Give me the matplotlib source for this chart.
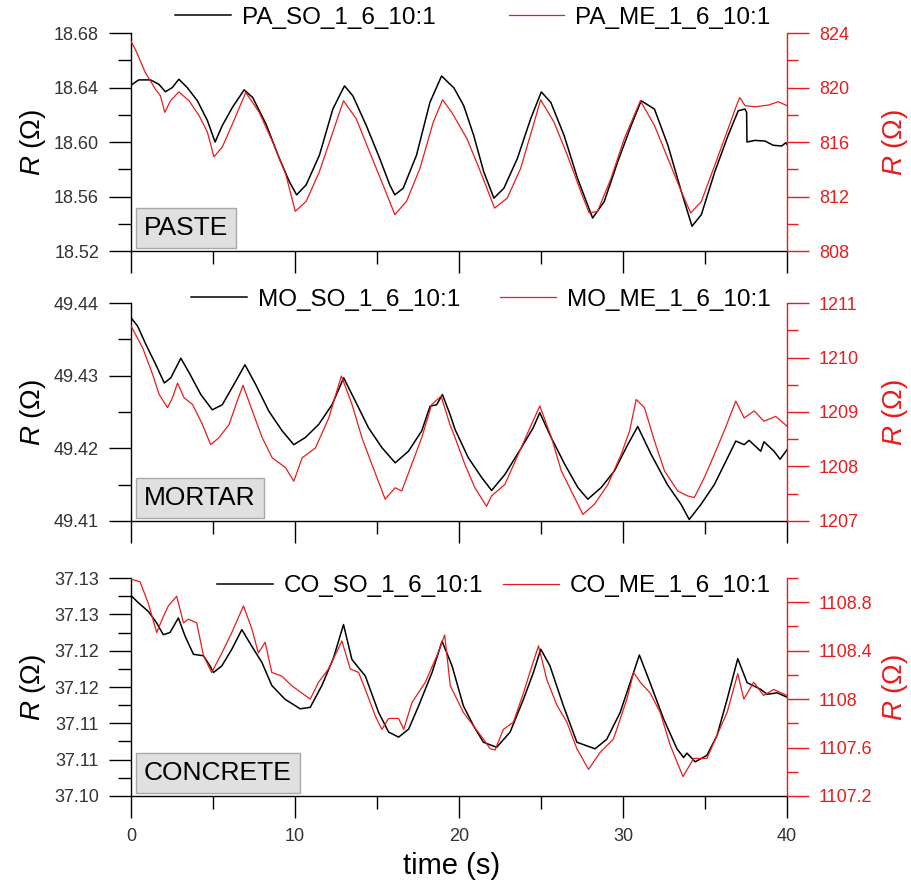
import matplotlib
matplotlib.use('Agg')
import matplotlib.pyplot as plt
from matplotlib.ticker import MultipleLocator, FixedLocator, FuncFormatter

plt.rcParams['font.family'] = ['Liberation Sans', 'DejaVu Sans']
plt.rcParams['mathtext.fontset'] = 'custom'
plt.rcParams['mathtext.rm'] = 'Liberation Sans'
plt.rcParams['mathtext.it'] = 'Liberation Sans:italic'

RED = '#e81c1c'
TICK_GREY = '#333333'

# --- paste (PA) ---
pa_so_t = [0, 0.47, 1.19, 1.7, 2.1, 2.52, 2.92, 3.43, 4.05, 4.66, 5.13, 5.57, 6.19, 6.9, 7.42,
           8.23, 9.05, 9.66, 10.1, 10.68, 11.49, 12.31, 12.71, 13.02, 13.53, 14.35, 15.17, 15.78,
           16.09, 16.6, 17.41, 18.23, 18.94, 19.56, 19.68, 20.29, 20.9, 21.51, 22.13, 22.74, 23.56,
           24.37, 25.02, 25.6, 26.41, 27.23, 28.15, 28.86, 29.68, 30.5, 31.11, 31.92, 32.74, 33.56,
           34.21, 34.78, 35.6, 36.41, 37.03, 37.44, 37.54, 37.56, 38.05, 38.66, 39.17, 39.68,
           39.93, 40.0]
pa_so_r = [18.6417, 18.6456, 18.6456, 18.6424, 18.6369, 18.64, 18.6461, 18.64, 18.6303, 18.6158,
           18.6, 18.6121, 18.6255, 18.6383, 18.6327, 18.6133, 18.5879, 18.5709, 18.5612, 18.5685,
           18.5903, 18.6242, 18.6339, 18.6412, 18.6339, 18.6121, 18.5879, 18.5685, 18.5612,
           18.5661, 18.5903, 18.6291, 18.6485, 18.6412, 18.64, 18.6267, 18.6048, 18.5782, 18.5588,
           18.5661, 18.5879, 18.617, 18.6368, 18.6291, 18.6048, 18.5733, 18.5442, 18.5564,
           18.5855, 18.6121, 18.6303, 18.6242, 18.5976, 18.5636, 18.5382, 18.5467, 18.5782,
           18.6048, 18.623, 18.6242, 18.6218, 18.6, 18.6012, 18.6007, 18.5976, 18.5971, 18.5995,
           18.5983]
pa_me_t = [0, 0.27, 0.88, 1.49, 1.8, 2.06, 2.41, 2.92, 3.54, 4.15, 4.66, 5.06, 5.57, 6.19, 7.0,
           7.82, 8.64, 9.45, 10.02, 10.68, 11.49, 12.31, 12.96, 13.74, 14.55, 15.37, 16.09, 16.8,
           17.62, 18.43, 19.0, 19.56, 20.49, 21.31, 22.17, 22.94, 23.76, 24.47, 24.98, 25.8, 26.61,
           27.43, 27.94, 28.45, 29.27, 30.08, 31.06, 31.92, 32.74, 33.56, 34.13, 34.78, 35.6,
           36.41, 36.92, 37.12, 37.44, 38.05, 38.86, 39.47, 40.0]
pa_me_r = [823.39, 822.79, 821.09, 819.88, 819.39, 818.18, 819.03, 819.68, 819.03, 817.94, 816.73,
           814.91, 815.64, 817.33, 819.64, 818.18, 816.0, 813.58, 810.91, 811.64, 813.82, 816.73,
           819.03, 817.7, 815.27, 812.85, 810.67, 811.64, 814.06, 817.45, 819.1, 818.18, 816.24,
           813.82, 811.15, 811.88, 814.06, 816.97, 819.1, 817.45, 815.03, 812.36, 810.79, 810.91,
           813.33, 816.24, 819.03, 817.21, 814.79, 812.36, 810.79, 811.64, 814.3, 816.97, 818.67,
           819.27, 818.67, 818.59, 818.71, 818.96, 818.67]

# --- mortar (MO) ---
mo_so_t = [0, 0.41, 0.91, 1.52, 2.03, 2.43, 3.04, 3.55, 4.26, 4.96, 5.57, 6.38, 6.95, 7.6, 8.41,
           9.22, 9.93, 10.64, 11.45, 12.26, 12.97, 13.68, 14.49, 15.3, 16.11, 16.92, 17.73, 18.24,
           18.64, 18.99, 19.45, 19.76, 20.57, 21.38, 21.99, 22.8, 23.81, 24.52, 24.93, 25.64,
           26.45, 27.25, 27.86, 28.67, 29.48, 30.29, 30.9, 31.71, 32.71, 33.54, 34.04, 34.76,
           35.57, 36.38, 36.88, 37.39, 37.69, 38.4, 38.6, 39.21, 39.58, 40.0]
mo_so_r = [49.438, 49.4368, 49.4343, 49.4315, 49.429, 49.4297, 49.4324, 49.4304, 49.4274, 49.4253,
           49.426, 49.4292, 49.4315, 49.4288, 49.4251, 49.4224, 49.4205, 49.4215, 49.4233, 49.426,
           49.4297, 49.4265, 49.4228, 49.4201, 49.418, 49.4196, 49.4224, 49.4258, 49.426, 49.4274,
           49.4247, 49.4226, 49.4187, 49.416, 49.4142, 49.4164, 49.4201, 49.4228, 49.4249,
           49.4214, 49.4178, 49.4146, 49.413, 49.4146, 49.4169, 49.4205, 49.423, 49.4192, 49.415,
           49.4123, 49.4102, 49.4123, 49.415, 49.4187, 49.421, 49.4205, 49.4211, 49.4196,
           49.4209, 49.4196, 49.4185, 49.4198]
mo_me_t = [0, 0.71, 1.32, 1.72, 2.23, 2.53, 2.84, 3.24, 3.75, 4.36, 4.86, 5.37, 5.98, 6.48, 6.83,
           7.4, 8.0, 8.61, 9.42, 9.93, 10.44, 11.25, 12.06, 12.83, 13.48, 14.08, 14.69, 15.5,
           16.11, 16.51, 17.12, 17.73, 18.34, 18.91, 19.45, 19.76, 20.36, 20.97, 21.68, 21.99,
           22.8, 23.61, 24.42, 24.93, 25.64, 26.24, 26.85, 27.56, 28.27, 29.08, 29.89, 30.4,
           30.81, 31.31, 31.92, 32.53, 33.34, 33.94, 34.35, 34.95, 35.57, 36.17, 36.88, 37.39,
           38.0, 38.6, 39.31, 40.0]
mo_me_r = [1210.58, 1210.18, 1209.69, 1209.32, 1209.08, 1209.26, 1209.53, 1209.26, 1209.14,
           1208.77, 1208.4, 1208.53, 1208.77, 1209.2, 1209.49, 1209.02, 1208.53, 1208.16, 1207.98,
           1207.73, 1208.16, 1208.34, 1208.89, 1209.66, 1209.14, 1208.53, 1208.04, 1207.4,
           1207.61, 1207.55, 1208.04, 1208.53, 1209.14, 1209.29, 1208.77, 1208.53, 1208.04,
           1207.61, 1207.27, 1207.46, 1207.67, 1208.22, 1208.77, 1209.11, 1208.53, 1207.92,
           1207.55, 1207.12, 1207.31, 1207.67, 1208.22, 1208.65, 1209.23, 1209.08, 1208.47,
           1207.92, 1207.55, 1207.46, 1207.43, 1207.79, 1208.22, 1208.65, 1209.2, 1208.89,
           1209.02, 1208.83, 1208.92, 1208.74]

# --- concrete (CO) ---
co_so_t = [0, 0.45, 1.06, 1.57, 1.97, 2.38, 2.89, 3.3, 3.81, 4.42, 4.82, 5.03, 5.54, 6.15, 6.76,
           7.37, 7.98, 8.59, 9.4, 10.32, 10.93, 11.64, 12.35, 12.96, 13.47, 14.29, 15.1, 15.71,
           16.32, 16.93, 17.54, 18.36, 18.97, 19.58, 20.27, 20.88, 21.49, 22.3, 23.12, 23.93,
           24.54, 24.99, 25.55, 26.37, 27.19, 27.8, 28.3, 29.01, 29.83, 30.44, 31.0, 31.65, 32.48,
           33.29, 33.7, 33.9, 34.41, 35.12, 35.73, 36.35, 37.0, 37.57, 38.38, 38.79, 39.4, 40.0]
co_so_r = [37.1276, 37.1266, 37.1254, 37.1238, 37.1222, 37.1225, 37.1245, 37.122, 37.1195,
           37.1193, 37.1179, 37.117, 37.1179, 37.1202, 37.1229, 37.1206, 37.1184, 37.1152,
           37.1133, 37.112, 37.1122, 37.1152, 37.119, 37.1236, 37.1188, 37.1165, 37.1115,
           37.1088, 37.1081, 37.1092, 37.1124, 37.117, 37.1213, 37.1179, 37.1124, 37.1097,
           37.1074, 37.1067, 37.1088, 37.1133, 37.117, 37.1202, 37.1179, 37.1124, 37.1074,
           37.1069, 37.1065, 37.1078, 37.1115, 37.1156, 37.1194, 37.1156, 37.1106, 37.1065,
           37.1053, 37.1059, 37.1047, 37.1056, 37.1083, 37.1133, 37.1189, 37.1156, 37.1147,
           37.114, 37.1142, 37.1136]
co_me_t = [0, 0.55, 1.06, 1.57, 1.97, 2.28, 2.79, 3.2, 3.5, 4.01, 4.42, 4.92, 5.54, 6.15, 6.86,
           7.37, 7.77, 8.18, 8.59, 9.2, 9.81, 10.42, 10.93, 11.44, 12.05, 12.86, 13.37, 13.88,
           14.29, 14.9, 15.3, 15.71, 16.32, 16.63, 17.13, 17.95, 18.66, 19.13, 19.47, 20.27,
           20.88, 21.49, 21.9, 22.2, 22.71, 23.32, 23.93, 24.44, 24.85, 25.36, 25.97, 26.58,
           27.19, 27.9, 28.61, 29.42, 30.24, 30.65, 31.05, 31.66, 32.27, 32.88, 33.66, 34.31,
           35.12, 35.73, 36.35, 37.0, 37.37, 37.97, 38.58, 39.19, 40.0]
co_me_r = [1108.99, 1108.97, 1108.79, 1108.55, 1108.68, 1108.77, 1108.85, 1108.63, 1108.66,
           1108.63, 1108.36, 1108.22, 1108.38, 1108.55, 1108.77, 1108.58, 1108.38, 1108.47,
           1108.22, 1108.19, 1108.11, 1108.05, 1108.0, 1108.14, 1108.25, 1108.48, 1108.25,
           1108.22, 1108.08, 1107.86, 1107.75, 1107.84, 1107.84, 1107.75, 1107.97, 1108.14,
           1108.36, 1108.53, 1108.11, 1107.89, 1107.78, 1107.67, 1107.59, 1107.58, 1107.75,
           1107.81, 1108.05, 1108.27, 1108.44, 1108.16, 1107.95, 1107.81, 1107.59, 1107.42,
           1107.56, 1107.67, 1108.0, 1108.22, 1108.14, 1108.05, 1107.89, 1107.62, 1107.36,
           1107.51, 1107.51, 1107.7, 1107.89, 1108.21, 1108.0, 1108.14, 1108.03, 1108.08, 1108.03]

# left tick labels of the concrete panel are printed with two decimals (hence repeats)
co_left_ticks = [37.100, 37.105, 37.110, 37.115, 37.120, 37.125, 37.130]
co_left_labels = ['37.10', '37.11', '37.11', '37.12', '37.12', '37.13', '37.13']

panels = [
    dict(name='PASTE', so=(pa_so_t, pa_so_r), me=(pa_me_t, pa_me_r),
         labels=['PA_SO_1_6_10:1', 'PA_ME_1_6_10:1'],
         llim=(18.52, 18.68), lmaj=0.04, lmin=0.02,
         rlim=(808, 824), rmaj=4, rmin=2,
         bottom=0.7167, leg_y=0.9797, colsp=3.0),
    dict(name='MORTAR', so=(mo_so_t, mo_so_r), me=(mo_me_t, mo_me_r),
         labels=['MO_SO_1_6_10:1', 'MO_ME_1_6_10:1'],
         llim=(49.41, 49.44), lmaj=0.01, lmin=0.005,
         rlim=(1207, 1211), rmaj=1, rmin=0.5,
         bottom=0.412, leg_y=0.6614, colsp=1.65),
    dict(name='CONCRETE', so=(co_so_t, co_so_r), me=(co_me_t, co_me_r),
         labels=['CO_SO_1_6_10:1', 'CO_ME_1_6_10:1'],
         llim=(37.10, 37.13), lmaj=None, lmin=0.0025,
         rlim=(1107.2, 1109.0), rmaj=0.4, rmin=0.2,
         bottom=0.1016, leg_y=0.3386, colsp=0.8),
]

fig = plt.figure(figsize=(9.12, 8.86), dpi=100)

for i, p in enumerate(panels):
    ax = fig.add_axes([0.1436, p['bottom'], 0.7193, 0.246])
    ax2 = ax.twinx()

    l1, = ax.plot(*p['so'], color='black', lw=1.1)
    l2, = ax2.plot(*p['me'], color=RED, lw=0.9)

    ax.set_xlim(0, 40)
    ax.set_ylim(*p['llim'])
    ax2.set_ylim(*p['rlim'])

    ax.xaxis.set_major_locator(MultipleLocator(10))
    ax.xaxis.set_minor_locator(MultipleLocator(5))
    if p['lmaj'] is None:
        ax.yaxis.set_major_locator(FixedLocator(co_left_ticks))
        ax.set_yticklabels(co_left_labels)
    else:
        ax.yaxis.set_major_locator(MultipleLocator(p['lmaj']))
        ax.yaxis.set_major_formatter(FuncFormatter(lambda v, pos: '%.2f' % v))
    ax.yaxis.set_minor_locator(MultipleLocator(p['lmin']))
    ax2.yaxis.set_major_locator(MultipleLocator(p['rmaj']))
    ax2.yaxis.set_minor_locator(MultipleLocator(p['rmin']))
    ax2.yaxis.set_major_formatter(FuncFormatter(lambda v, pos: '%g' % round(v, 3)))

    for s in ['top', 'right']:
        ax.spines[s].set_visible(False)
    for s in ['top', 'left', 'bottom']:
        ax2.spines[s].set_visible(False)
    ax2.spines['right'].set_color(RED)
    for s in ['left', 'bottom']:
        ax.spines[s].set_linewidth(1.0)
    ax2.spines['right'].set_linewidth(1.0)

    ax.tick_params(which='major', length=16, width=1.0, direction='out', labelsize=13,
                   pad=7, labelcolor=TICK_GREY)
    ax.tick_params(which='minor', length=9.5, width=1.0, direction='out')
    ax2.tick_params(which='major', length=16, width=1.0, direction='out', labelsize=13,
                    pad=7, color=RED, labelcolor=RED)
    ax2.tick_params(which='minor', length=8, width=1.0, direction='out', color=RED)
    if i < 2:
        ax.tick_params(axis='x', labelbottom=False)
    else:
        ax.set_xlabel('time (s)', fontsize=21)
        ax.xaxis.set_label_coords(0.488, -0.255)

    ax.set_ylabel(r'$R$ (Ω)', fontsize=20)
    ax.yaxis.set_label_coords(-0.127, 0.5)
    ax2.set_ylabel(r'$R$ (Ω)', fontsize=20, color=RED)
    ax2.yaxis.set_label_coords(1.142, 0.5)

    # grey name box in the lower left corner
    ax2.text(0.02, 0.05, p['name'], transform=ax2.transAxes, fontsize=19,
             ha='left', va='bottom',
             bbox=dict(boxstyle='square,pad=0.3', fc='#e0e0e0', ec='#a8a8a8', lw=1))

    ax.legend([l1, l2], p['labels'], ncol=2, loc='center right',
              bbox_to_anchor=(0.845, p['leg_y']), bbox_transform=fig.transFigure,
              frameon=False, fontsize=17.5, handlelength=2.3, handletextpad=0.45,
              columnspacing=p['colsp'], borderpad=0, borderaxespad=0)

plt.savefig('out.png', dpi=100)
